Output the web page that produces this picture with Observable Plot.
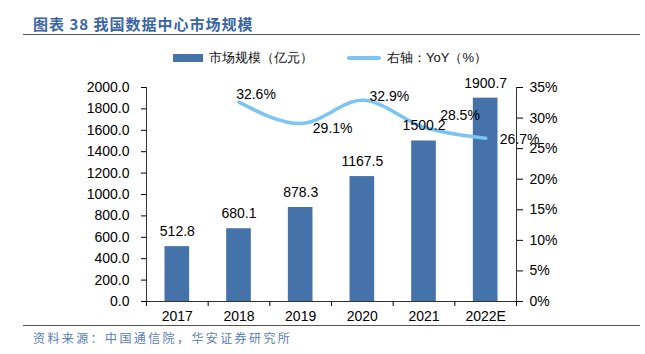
<!DOCTYPE html>
<html><head><meta charset="utf-8">
<script src="https://cdn.jsdelivr.net/npm/d3@7"></script>
<script src="https://cdn.jsdelivr.net/npm/@observablehq/plot@0.6"></script>
<style>
body{margin:0;background:#fff;}
#wrap{position:relative;width:645px;height:354px;overflow:hidden;font-family:"Liberation Sans",Arial,sans-serif;background:#fff;}
#chart{position:absolute;left:0;top:0;}
#title{position:absolute;left:33px;top:14px;font-family:"Noto Sans CJK SC",sans-serif;font-weight:bold;font-size:15px;letter-spacing:1px;color:#3a66a3;line-height:20px;white-space:nowrap;}
.hr{position:absolute;left:23px;width:617px;height:1px;background:#555;}
#legend{position:absolute;top:49px;left:173px;height:18px;font-size:13px;line-height:18px;white-space:nowrap;color:#111;}
#legend span{position:absolute;top:0;}
.sw{position:absolute;}
#caption{position:absolute;left:33px;top:329px;font-family:"Noto Sans CJK SC",sans-serif;font-size:12px;letter-spacing:2.4px;color:#5a7db5;line-height:18px;white-space:nowrap;}
</style></head><body>
<div id="wrap">
  <div id="chart"></div>
  <div id="title">图表 38 我国数据中心市场规模</div>
  <div class="hr" style="top:34px"></div>
  <div id="legend"></div>
  <div class="hr" style="top:325px"></div>
  <div id="caption">资料来源：中国通信院，华安证券研究所</div>
</div>
<script>
const years = ["2017", "2018", "2019", "2020", "2021", "2022E"];
const marketSize = [512.8, 680.1, 878.3, 1167.5, 1500.2, 1900.7];
const yoyYears = ["2018", "2019", "2020", "2021", "2022E"];
const yoy = [32.6, 29.1, 32.9, 28.5, 26.7];
const leftTicks = [0, 200, 400, 600, 800, 1000, 1200, 1400, 1600, 1800, 2000];
const rightTicks = [0, 5, 10, 15, 20, 25, 30, 35];
const seriesNames = ["市场规模（亿元）", "右轴：YoY（%）"];

const leftMax = 2000, rightMax = 35;
const toLeft = v => v / rightMax * leftMax;
const fromLeft = v => v / leftMax * rightMax;

const barColor = "#4672aa";
const lineColor = "#7cc4f4";

const bars = years.map((y, i) => ({i, year: y, value: marketSize[i]}));
const growth = yoyYears.map((y, k) => ({i: years.indexOf(y), year: y, value: yoy[k]}));

// label offsets (px) for YoY labels
const yoyLabelOffsets = [[17, -8], [32, 5], [27, -4], [36, -12], [34, 1]];

const font = "Liberation Sans, Arial, sans-serif";

const chart = Plot.plot({
  width: 645, height: 354,
  marginTop: 87, marginBottom: 53, marginLeft: 146, marginRight: 129,
  x: {type: "linear", domain: [0, years.length]},
  y: {domain: [0, leftMax]},
  style: {fontSize: "14px", fontFamily: font, color: "#000", background: "transparent"},
  marks: [
    Plot.rect(bars, {x1: d => d.i, x2: d => d.i + 1, y1: 0, y2: "value", insetLeft: 18.5, insetRight: 18.5, fill: barColor}),
    Plot.ruleY([0], {stroke: "#333"}),
    Plot.ruleX([0, years.length], {stroke: "#333"}),
    Plot.axisY({ticks: leftTicks, tickFormat: d3.format(".1f"), tickSize: 5, tickPadding: 12, label: null, fontSize: 14}),
    Plot.axisY({anchor: "right", ticks: rightTicks.map(toLeft), tickFormat: d => `${Math.round(fromLeft(d))}%`, tickSize: 6, tickPadding: 7, label: null, fontSize: 14}),
    Plot.axisX({ticks: d3.range(0, years.length + 1), tickFormat: () => "", tickSize: 5, label: null}),
    Plot.axisX({ticks: years.map((_, i) => i + 0.5), tickFormat: d => years[Math.floor(d)], tickSize: 0, tickPadding: 10, label: null, fontSize: 14}),
    Plot.line(growth, {x: d => d.i + 0.5, y: d => toLeft(d.value), stroke: lineColor, strokeWidth: 3.5, curve: "monotone-x"}),
    Plot.text(bars, {x: d => d.i + 0.5, y: "value", text: d => d.value.toFixed(1), dy: -15, fontSize: 14, fill: "#000"}),
    ...growth.map((g, k) => Plot.text([g], {x: d => d.i + 0.5, y: d => toLeft(d.value), text: d => `${d.value.toFixed(1)}%`, dx: yoyLabelOffsets[k][0], dy: yoyLabelOffsets[k][1], fontSize: 14, fill: "#000"}))
  ]
});
document.getElementById("chart").appendChild(chart);

// legend
const lg = document.getElementById("legend");
lg.innerHTML =
  `<div class="sw" style="left:0;top:5px;width:30px;height:8px;background:${barColor}"></div>` +
  `<span style="left:36px">${seriesNames[0]}</span>` +
  `<div class="sw" style="left:174px;top:7px;width:34px;height:4px;border-radius:2px;background:${lineColor}"></div>` +
  `<span style="left:214px">${seriesNames[1]}</span>`;
</script>
</body></html>
